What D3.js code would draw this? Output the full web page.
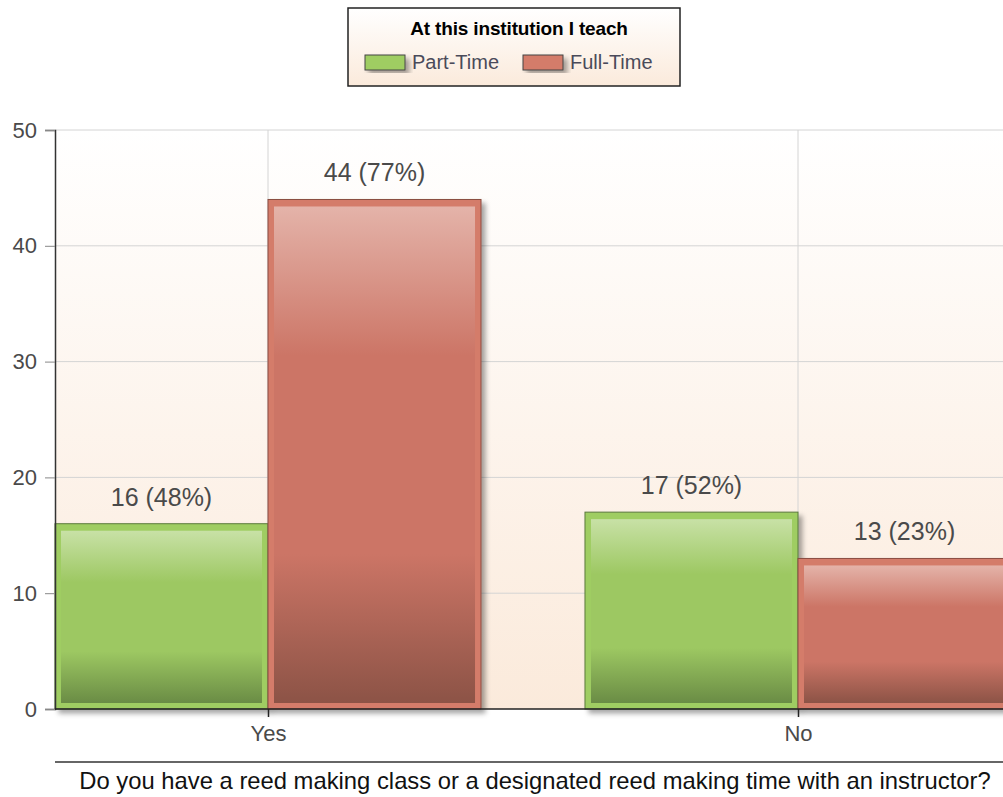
<!DOCTYPE html>
<html>
<head>
<meta charset="utf-8">
<script src="https://cdn.jsdelivr.net/npm/d3@7.9.0/dist/d3.min.js"></script>
<style>
  body { margin: 0; background: #fff; }
  text { font-family: "Liberation Sans", Arial, sans-serif; }
</style>
</head>
<body>
<svg id="chart" width="1003" height="797"></svg>
<script>
const categories = ['Yes', 'No'];
const seriesNames = ['Part-Time', 'Full-Time'];
const partTime = [16, 17];
const fullTime = [44, 13];
const partPct = [48, 52];
const fullPct = [77, 23];
const yTicks = [0, 10, 20, 30, 40, 50];
const legendTitle = 'At this institution I teach';
const xTitle = 'Do you have a reed making class or a designated reed making time with an instructor?';

const svg = d3.select('#chart');
const plotLeft = 55, plotTop = 130, plotBottom = 709, plotRight = 1003;

const y = d3.scaleLinear().domain([0, 50]).range([plotBottom, plotTop]);
// category bands run past the visible right edge, like the original
const x = d3.scaleBand().domain(categories).range([plotLeft - 52, plotLeft - 52 + 1060]).padding(0);
const xs = d3.scaleBand().domain(seriesNames).range([0, x.bandwidth()]).paddingInner(0).paddingOuter(0.244);

const defs = svg.append('defs');

const bg = defs.append('linearGradient').attr('id', 'bg').attr('x1', 0).attr('y1', 0).attr('x2', 0).attr('y2', 1);
bg.append('stop').attr('offset', '0%').attr('stop-color', '#ffffff');
bg.append('stop').attr('offset', '100%').attr('stop-color', '#fbeadb');

const lg = defs.append('linearGradient').attr('id', 'lg').attr('x1', 0).attr('y1', 0).attr('x2', 0).attr('y2', 1);
lg.append('stop').attr('offset', '0%').attr('stop-color', '#ffffff');
lg.append('stop').attr('offset', '100%').attr('stop-color', '#fbeadb');

const fills = {
  'Part-Time': { outer: '#9fcd62', top: '#c8e1a6', mid: '#9dc862', bot: '#6a8c45', line: '#5b7a3c' },
  'Full-Time': { outer: '#d47b6b', top: '#e4b3a9', mid: '#cc7566', bot: '#8c5346', line: '#8a4d40' }
};
Object.entries(fills).forEach(([k, c], i) => {
  const g = defs.append('linearGradient').attr('id', 'g' + i).attr('x1', 0).attr('y1', 0).attr('x2', 0).attr('y2', 1);
  g.append('stop').attr('offset', '0%').attr('stop-color', c.top);
  g.append('stop').attr('offset', '30%').attr('stop-color', c.mid);
  g.append('stop').attr('offset', '70%').attr('stop-color', c.mid);
  g.append('stop').attr('offset', '100%').attr('stop-color', c.bot);
});

const shadow = defs.append('filter').attr('id', 'shadow').attr('x', '-10%').attr('y', '-10%').attr('width', '130%').attr('height', '130%');
shadow.append('feDropShadow').attr('dx', 4).attr('dy', 4).attr('stdDeviation', 2.5).attr('flood-color', '#000').attr('flood-opacity', 0.35);

// plot background
svg.append('rect').attr('x', plotLeft).attr('y', plotTop).attr('width', plotRight - plotLeft).attr('height', plotBottom - plotTop).attr('fill', 'url(#bg)');

// grid
svg.append('g').selectAll('line').data(yTicks.slice(1)).join('line')
  .attr('x1', plotLeft).attr('x2', plotRight).attr('y1', d => y(d)).attr('y2', d => y(d))
  .attr('stroke', '#d4d4d4').attr('stroke-width', 1);
svg.append('g').selectAll('line').data(categories).join('line')
  .attr('x1', d => x(d) + x.bandwidth() / 2).attr('x2', d => x(d) + x.bandwidth() / 2)
  .attr('y1', plotTop).attr('y2', plotBottom).attr('stroke', '#d4d4d4');

// bars
const rows = categories.map((c, i) => [
  { cat: c, s: 'Part-Time', v: partTime[i], p: partPct[i], gi: 0 },
  { cat: c, s: 'Full-Time', v: fullTime[i], p: fullPct[i], gi: 1 }
]).flat();

const bars = svg.append('g').selectAll('g').data(rows).join('g')
  .attr('transform', d => `translate(${x(d.cat) + xs(d.s)},0)`);

bars.append('rect')
  .attr('x', 0).attr('y', d => y(d.v)).attr('width', xs.bandwidth()).attr('height', d => plotBottom - y(d.v))
  .attr('fill', d => fills[d.s].outer).attr('stroke', d => fills[d.s].line).attr('stroke-width', 1)
  .attr('filter', 'url(#shadow)');
bars.append('rect')
  .attr('x', 6).attr('y', d => y(d.v) + 7).attr('width', xs.bandwidth() - 12).attr('height', d => plotBottom - y(d.v) - 13)
  .attr('fill', d => `url(#g${d.gi})`);

bars.append('text')
  .attr('x', xs.bandwidth() / 2).attr('y', d => y(d.v) - 18)
  .attr('text-anchor', 'middle').attr('font-size', 25).attr('fill', '#4a4a4a')
  .text(d => `${d.v} (${d.p}%)`);

// axes
const yAxis = svg.append('g').attr('transform', `translate(${plotLeft},0)`)
  .call(d3.axisLeft(y).tickValues(yTicks).tickSize(10).tickPadding(8));
yAxis.select('.domain').attr('stroke', '#333').attr('stroke-width', 1.5);
yAxis.selectAll('.tick line').attr('stroke', '#888');
yAxis.selectAll('.tick text').attr('font-size', 22).attr('fill', '#4a4a4a');

const xAxis = svg.append('g').attr('transform', `translate(0,${plotBottom})`)
  .call(d3.axisBottom(d3.scalePoint().domain(categories).range([x('Yes') + x.bandwidth() / 2, x('No') + x.bandwidth() / 2]))
    .tickSize(8).tickPadding(8));
xAxis.select('.domain').remove();
xAxis.append('line').attr('x1', plotLeft).attr('x2', plotRight).attr('stroke', '#222').attr('stroke-width', 1.5);
xAxis.selectAll('.tick line').attr('stroke', '#222').attr('stroke-width', 1.5);
xAxis.selectAll('.tick text').attr('font-size', 22).attr('fill', '#4a4a4a');

// x title
svg.append('line').attr('x1', plotLeft).attr('x2', plotRight).attr('y1', 762).attr('y2', 762).attr('stroke', '#333').attr('stroke-width', 1.5);
svg.append('text').attr('x', 535).attr('y', 789).attr('text-anchor', 'middle')
  .attr('font-size', 23.8).attr('fill', '#111').text(xTitle);

// legend
const leg = svg.append('g');
leg.append('rect').attr('x', 348).attr('y', 8).attr('width', 332).attr('height', 78)
  .attr('fill', 'url(#lg)').attr('stroke', '#222').attr('stroke-width', 1.5);
leg.append('text').attr('x', 519).attr('y', 35).attr('text-anchor', 'middle')
  .attr('font-size', 19).attr('font-weight', 'bold').attr('letter-spacing', -0.15).attr('fill', '#000').text(legendTitle);
const legX = [365, 523];
seriesNames.forEach((s, i) => {
  leg.append('rect').attr('x', legX[i]).attr('y', 55).attr('width', 40).attr('height', 15)
    .attr('fill', fills[s].outer).attr('stroke', '#444').attr('stroke-width', 1).attr('filter', 'url(#shadow)');
  leg.append('text').attr('x', legX[i] + 47).attr('y', 69).attr('font-size', 20).attr('fill', '#4a4a5a').text(s);
});
</script>
</body>
</html>
